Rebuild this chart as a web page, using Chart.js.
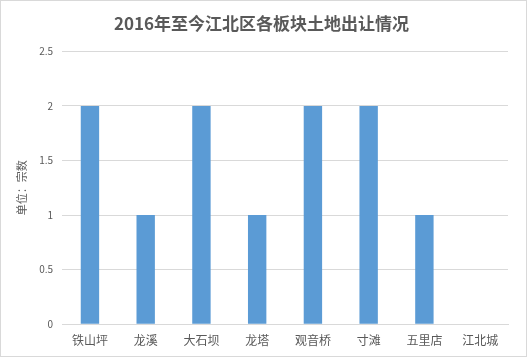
<!DOCTYPE html>
<html><head><meta charset="utf-8">
<script src="https://cdn.jsdelivr.net/npm/chart.js@4/dist/chart.umd.min.js"></script>
<style>
html,body{margin:0;padding:0;background:#fff;}
#frame{position:absolute;left:0;top:0;width:525px;height:355px;border:1px solid #d9d9d9;pointer-events:none;}
canvas{display:block;position:absolute;left:0;top:0;}
</style></head>
<body><canvas id="c" width="527" height="357"></canvas><div id="frame"></div>
<script>
const titleText = '2016年至今江北区各板块土地出让情况';
const axisTitle = '单位：宗数';
const categories = ['铁山坪','龙溪','大石坝','龙塔','观音桥','寸滩','五里店','江北城'];
const values = [2,1,2,1,2,2,1,0];
const yMax = 2.5, yStep = 0.5;

Chart.defaults.font.family = '"Microsoft YaHei","Noto Sans CJK SC","DejaVu Sans",sans-serif';
new Chart(document.getElementById('c'), {
  type: 'bar',
  data: { labels: categories, datasets: [{ data: values, backgroundColor: '#5b9bd5', categoryPercentage: 1, barPercentage: 0.33 }] },
  options: {
    responsive: false, animation: false,
    layout: { padding: { left: 15, right: 19, top: 7, bottom: 0 } },
    plugins: {
      legend: { display: false }, tooltip: { enabled: false },
      title: { display: true, text: titleText, color: '#595959', font: { size: 17, weight: 'bold' }, padding: { top: 6, bottom: 18 } }
    },
    scales: {
      x: { grid: { display: false, drawTicks: false }, border: { color: '#d9d9d9' },
           ticks: { color: '#595959', font: { size: 12, lineHeight: 0.9 }, padding: 11 } },
      y: { min: 0, max: yMax, ticks: { stepSize: yStep, color: '#595959', font: { size: 10 }, padding: 9,
             callback: v => String(v) },
           grid: { color: '#d9d9d9', drawTicks: false }, border: { display: false },
           title: { display: true, text: axisTitle, color: '#595959', font: { size: 11 }, padding: { top: 0, bottom: 2 } } }
    }
  }
});
</script></body></html>
